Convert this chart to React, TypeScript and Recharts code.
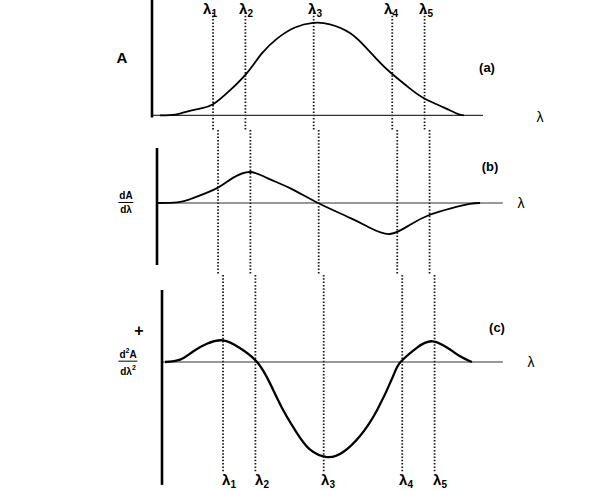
import React from "react";
import { LineChart, Line, XAxis, YAxis, ReferenceLine } from "recharts";

// wavelength positions of the five marked points (same x units in every panel)
const lambdaPos = [18.5, 28.3, 49, 72.8, 82.6];
const lambdaSubs = ["1", "2", "3", "4", "5"];

// (a) absorbance
const absX = [2.4, 7, 9.4, 14.5, 18.5, 23.6, 28.8, 33.3, 37.9, 43.3, 48.8, 53.9, 60, 65.2, 69.1, 72.7, 78.2, 82.7, 88.2, 90.9, 92.8, 94.5];
const absY = [0, 0.01, 0.03, 0.075, 0.12, 0.27, 0.46, 0.67, 0.83, 0.95, 1.0, 0.985, 0.89, 0.72, 0.57, 0.45, 0.29, 0.18, 0.09, 0.045, 0.015, 0];

// (b) first derivative
const d1X = [0.3, 6.1, 10.9, 18.2, 23, 28.2, 33.3, 40.3, 48.8, 58.5, 64.5, 70.6, 76.7, 82.7, 88.8, 94.8, 97.9];
const d1Y = [0, 0.02, 0.16, 0.48, 0.81, 1.0, 0.81, 0.48, 0, -0.48, -0.8, -1.0, -0.7, -0.38, -0.18, -0.03, 0];

// (c) second derivative
const d2X = [0.9, 5.5, 9.4, 13.6, 18.5, 23.6, 28.8, 32.7, 36.7, 40.9, 44.8, 50, 54.8, 60, 65.2, 70, 72.3, 77.3, 82.1, 87.3, 90.3, 93.9];
const d2Y = [0, 0.025, 0.11, 0.19, 0.225, 0.145, 0, -0.22, -0.5, -0.74, -0.91, -0.99, -0.94, -0.77, -0.5, -0.15, 0, 0.15, 0.215, 0.13, 0.06, 0];

const W = 593;
const PLOT_W = 346.5;

type PanelProps = {
  xs: number[];
  ys: number[];
  top: number;
  height: number;
  left: number;
  yDomain: [number, number];
  axisSpan: [number, number];
  baseEnd: number;
  dotSpan: [number, number];
  width: number;
};

function Panel({ xs, ys, top, height, left, yDomain, axisSpan, baseEnd, dotSpan, width }: PanelProps) {
  const data = xs.map((x, i) => ({ x, v: ys[i] }));
  return (
    <div style={{ position: "absolute", left: 0, top }}>
      <LineChart
        width={W}
        height={height}
        data={data}
        margin={{ top: 0, bottom: 0, left, right: W - left - PLOT_W }}
      >
        <XAxis type="number" dataKey="x" domain={[0, 105]} hide />
        <YAxis type="number" domain={yDomain} hide />
        {lambdaPos.map((p) => (
          <ReferenceLine
            key={p}
            segment={[{ x: p, y: dotSpan[0] }, { x: p, y: dotSpan[1] }]}
            stroke="#1a1a1a"
            strokeWidth={1.8}
            strokeDasharray="1.5 1.8"
          />
        ))}
        <ReferenceLine
          segment={[{ x: 0, y: 0 }, { x: baseEnd, y: 0 }]}
          stroke="#333"
          strokeWidth={1.2}
        />
        <ReferenceLine
          segment={[{ x: 0, y: axisSpan[0] }, { x: 0, y: axisSpan[1] }]}
          stroke="#000"
          strokeWidth={2.6}
        />
        <Line
          type="natural"
          dataKey="v"
          stroke="#000"
          strokeWidth={width}
          dot={false}
          isAnimationActive={false}
        />
      </LineChart>
    </div>
  );
}

const txt: React.CSSProperties = {
  position: "absolute",
  transform: "translate(-50%, -50%)",
  fontFamily: "'Liberation Sans', Arial, sans-serif",
  fontWeight: "bold",
  color: "#000",
  whiteSpace: "nowrap",
  lineHeight: 1,
};

function Lam({ x, y, sub }: { x: number; y: number; sub: string }) {
  return (
    <div style={{ ...txt, left: x, top: y, fontSize: 15 }}>
      λ<span style={{ fontSize: 10, verticalAlign: -3 }}>{sub}</span>
    </div>
  );
}

function Frac({ x, y, num, den }: { x: number; y: number; num: React.ReactNode; den: React.ReactNode }) {
  return (
    <div style={{ ...txt, left: x, top: y, fontSize: 10, textAlign: "center" }}>
      <div style={{ borderBottom: "1.5px solid #000", padding: "0 1px 1px" }}>{num}</div>
      <div style={{ paddingTop: 2 }}>{den}</div>
    </div>
  );
}

const topLabelX = [210, 246, 315, 391, 426];
const bottomLabelX = [229, 262, 328, 406, 440];

export default function App() {
  return (
    <div style={{ position: "absolute", left: 0, top: 0, width: W, height: 490, background: "#fff", overflow: "hidden" }}>
      <Panel
        xs={absX}
        ys={absY}
        top={0}
        height={130}
        left={152}
        yDomain={[-0.157, 1.247]}
        axisSpan={[1.247, -0.022]}
        baseEnd={100.3}
        dotSpan={[1.112, -0.157]}
        width={1.8}
      />
      <Panel
        xs={d1X}
        ys={d1Y}
        top={130}
        height={145}
        left={157}
        yDomain={[-2.323, 2.355]}
        axisSpan={[1.774, -2.0]}
        baseEnd={104.8}
        dotSpan={[2.355, -2.323]}
        width={1.8}
      />
      <Panel
        xs={d2X}
        ys={d2Y}
        top={275}
        height={215}
        left={162}
        yDomain={[-1.333, 0.906]}
        axisSpan={[0.75, -1.28]}
        baseEnd={103.3}
        dotSpan={[0.906, -1.146]}
        width={2.3}
      />

      {lambdaSubs.map((s, i) => (
        <Lam key={"t" + s} x={topLabelX[i]} y={10} sub={s} />
      ))}
      {lambdaSubs.map((s, i) => (
        <Lam key={"b" + s} x={bottomLabelX[i]} y={481} sub={s} />
      ))}

      <div style={{ ...txt, left: 122, top: 57, fontSize: 15 }}>A</div>
      <Frac x={126} y={203} num="dA" den="dλ" />
      <div style={{ ...txt, left: 139, top: 331, fontSize: 16 }}>+</div>
      <Frac
        x={128}
        y={362}
        num={<span>d<sup style={{ fontSize: 7 }}>2</sup>A</span>}
        den={<span>dλ<sup style={{ fontSize: 7 }}>2</sup></span>}
      />

      <div style={{ ...txt, left: 487, top: 67, fontSize: 13 }}>(a)</div>
      <div style={{ ...txt, left: 490, top: 166, fontSize: 13 }}>(b)</div>
      <div style={{ ...txt, left: 497, top: 327, fontSize: 13 }}>(c)</div>

      <div style={{ ...txt, left: 540, top: 117, fontSize: 14, fontWeight: "normal" }}>λ</div>
      <div style={{ ...txt, left: 521, top: 203, fontSize: 14, fontWeight: "normal" }}>λ</div>
      <div style={{ ...txt, left: 531, top: 362, fontSize: 14, fontWeight: "normal" }}>λ</div>
    </div>
  );
}
